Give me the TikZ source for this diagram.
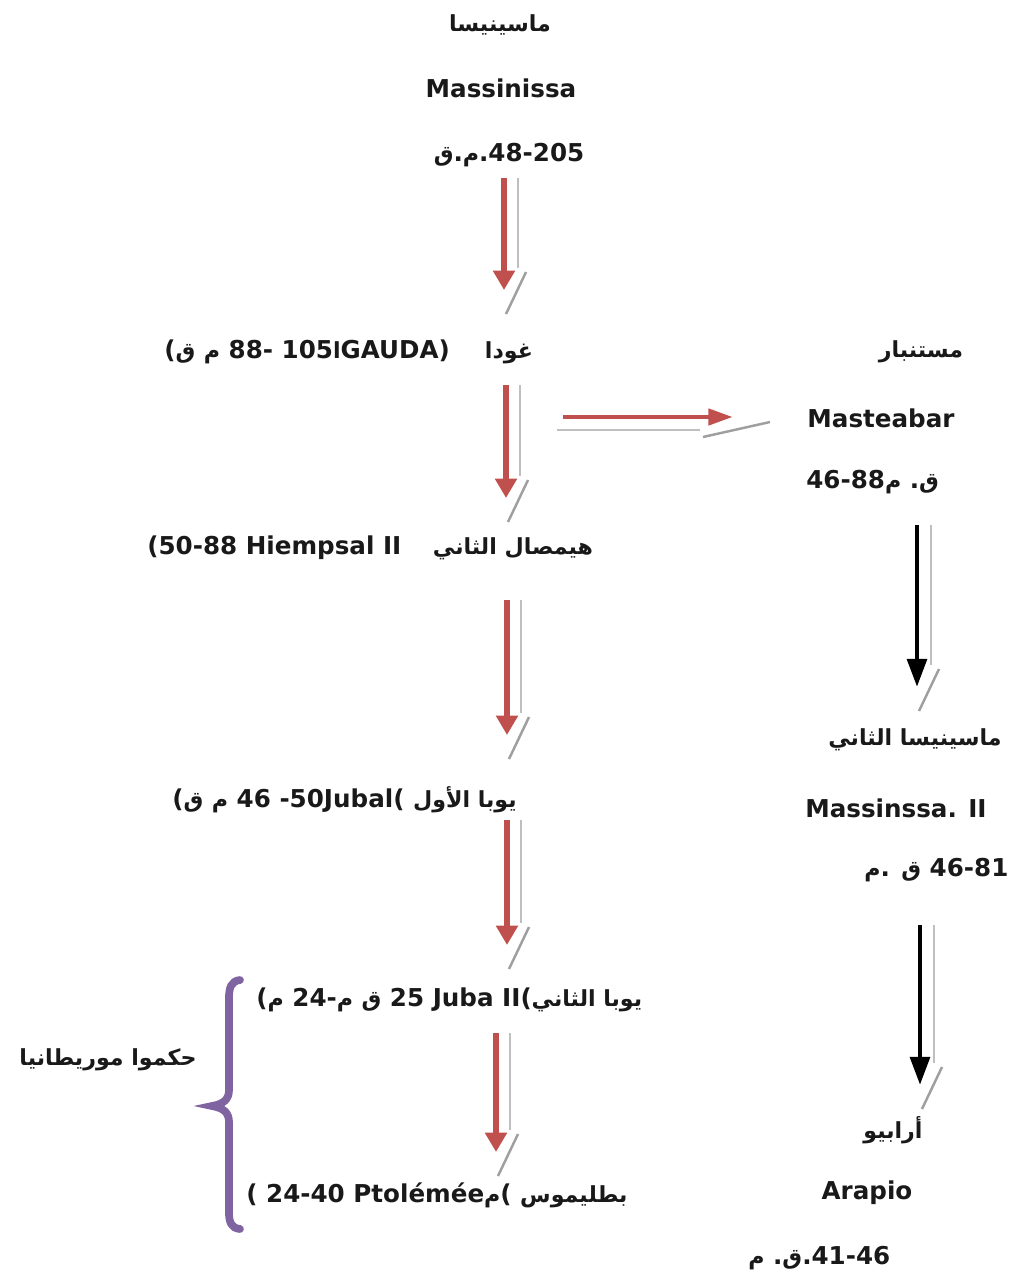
\documentclass[tikz,border=0pt]{standalone}
\usepackage{fontspec}
\setmainfont{DejaVu Sans}
\newfontfamily\arfont[Script=Arabic,Scale=0.9]{DejaVu Sans}
\TeXXeTstate=1
\usetikzlibrary{arrows.meta,calc}
\definecolor{arrred}{RGB}{192,80,77}
\definecolor{brpurple}{RGB}{128,100,162}
\newcommand\AR[1]{{\arfont\beginR #1\endR}}
\newcommand\threedv[3]{%
  \draw[shade] ($(#2)+(14,0)$) -- ($(#3)+(14,-22)$);
  \draw[slant] ($(#3)+(22,-18)$) -- ($(#3)+(2,24)$);
  \draw[#1] (#2) -- (#3);}
\begin{document}
\begin{tikzpicture}[x=0.02cm,y=-0.02cm,
  lbl/.style={font=\fontsize{14}{16}\selectfont\bfseries, inner sep=0pt, text=black!90},
  redarr/.style={draw=arrred, line width=3.2pt, -{Triangle[length=11pt,width=12pt]}},
  hredarr/.style={draw=arrred, line width=2.8pt, -{Triangle[length=14pt,width=9pt]}},
  blkarr/.style={draw=black, line width=2.8pt, -{Triangle[length=16pt,width=11pt]}},
  shade/.style={draw=gray!50, line width=1pt},
  slant/.style={draw=gray!75, line width=1.4pt},
]
\useasboundingbox (0,0) rectangle (1012,1275);
% left column texts
\node[lbl] (t1) at (500,25) {\AR{ماسينيسا}};
\node[lbl] (t2) at (501,88) {Massinissa};
\node[lbl] (t3) at (509,155) {\AR{ق}.\AR{م}.48-205};
\node[lbl,anchor=west] (gauda) at (164,352) {(\AR{ق} \AR{م} 88- 105\AR{ا}GAUDA)\hspace{20pt}\AR{غودا}};
\node[lbl,anchor=west] (hiem) at (147,548) {(50-88 Hiempsal II\hspace{18pt}\AR{هيمصال الثاني}};
\node[lbl,anchor=west] (juba1) at (172,800) {(\AR{ق} \AR{م} 46 -50Jubal( \AR{يوبا الأول}};
\node[lbl,anchor=west] (juba2) at (256,1000) {(\AR{م} 24-\AR{م} \AR{ق} 25 Juba II(\AR{يوبا الثاني}};
\node[lbl,anchor=west] (ptol) at (246,1195) {( 24-40 Ptolémée\AR{م}( \AR{بطليموس}};
\node[lbl] (maur) at (108,1060) {\AR{حكموا موريطانيا}};
% right column texts
\node[lbl] (mst1) at (921,352) {\AR{مستنبار}};
\node[lbl] (mst2) at (881,418) {Masteabar};
\node[lbl,anchor=west] (mst3) at (806,482) {46-88\AR{م} .\AR{ق}};
\node[lbl] (ms1) at (915,740) {\AR{ماسينيسا الثاني}};
\node[lbl] (ms2) at (896,808) {Massinssa. II};
\node[lbl,anchor=west] (ms3) at (864,870) {\AR{م}. \AR{ق} 46-81};
\node[lbl] (ar1) at (893,1130) {\AR{أرابيو}};
\node[lbl] (ar2) at (867,1193) {Arapio};
\node[lbl,anchor=west] (ar3) at (748,1258) {\AR{م} .\AR{ق}.41-46};
% arrow coordinates
\coordinate (a1s) at (504,178);  \coordinate (a1e) at (504,290);
\coordinate (a2s) at (506,385);  \coordinate (a2e) at (506,498);
\coordinate (a3s) at (507,600);  \coordinate (a3e) at (507,735);
\coordinate (a4s) at (507,820);  \coordinate (a4e) at (507,945);
\coordinate (a5s) at (496,1033); \coordinate (a5e) at (496,1152);
\coordinate (b1s) at (917,525);  \coordinate (b1e) at (917,687);
\coordinate (b2s) at (920,925);  \coordinate (b2e) at (920,1085);
\coordinate (hs) at (563,417);   \coordinate (he) at (733,417);
\threedv{redarr}{a1s}{a1e}
\threedv{redarr}{a2s}{a2e}
\threedv{redarr}{a3s}{a3e}
\threedv{redarr}{a4s}{a4e}
\threedv{redarr}{a5s}{a5e}
\threedv{blkarr}{b1s}{b1e}
\threedv{blkarr}{b2s}{b2e}
\draw[shade] ($(hs)+(-6,13)$) -- ($(he)+(-33,13)$);
\draw[slant] ($(he)+(-30,20)$) -- ($(he)+(37,5)$);
\draw[hredarr] (hs) -- (he);
% brace
\draw[brpurple, line width=4.4pt, line cap=round]
  (240,980) .. controls (231,981) and (229,988) .. (229,998) -- (229,1090)
  .. controls (229,1099) and (224,1104) .. (212,1106)
  .. controls (224,1108) and (229,1113) .. (229,1122) -- (229,1212)
  .. controls (229,1222) and (231,1228) .. (240,1229);
\end{tikzpicture}
\end{document}
